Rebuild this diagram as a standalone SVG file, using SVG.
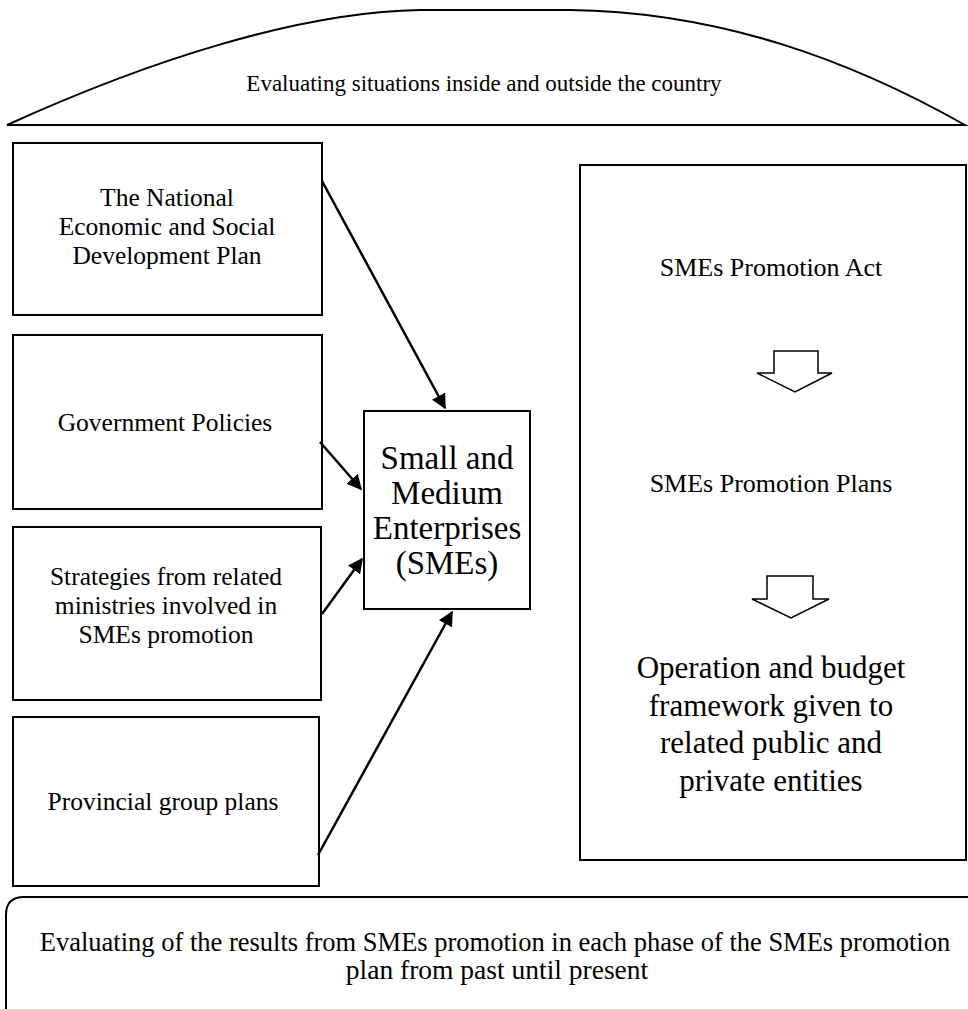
<svg xmlns="http://www.w3.org/2000/svg" width="968" height="1009" viewBox="0 0 968 1009">
<style>
.box{fill:#fff;stroke:#000;stroke-width:2}
.t{font-family:"Liberation Serif","Times New Roman",serif;fill:#000;text-anchor:middle}
.s{font-size:25.5px}
.top{font-size:23px}
.h{font-size:26px}
.m{font-size:31px}
.l{font-size:33px}
.b{font-size:27.5px}
.b1{font-size:26.5px}
.c{stroke:#000;stroke-width:2.5;fill:none;marker-end:url(#ah)}
.ha{fill:#fff;stroke:#000;stroke-width:1.5}
</style>
<defs>
<marker id="ah" viewBox="0 0 10 10" refX="9" refY="5" markerWidth="6" markerHeight="6" markerUnits="strokeWidth" orient="auto">
<path d="M0,0 L10,5 L0,10 Z" fill="#000"/>
</marker>
</defs>
<rect width="968" height="1009" fill="#fff"/>
<g id="top-arch">
<path d="M7,125 C150,60 300,12 420,10 L570,10 C720,12 850,60 965,125 Z" fill="#fff" stroke="#000" stroke-width="2"/>
<text class="t top" x="484" y="91">Evaluating situations inside and outside the country</text>
</g>
<g id="node-national-plan">
<rect class="box" x="13" y="143" width="309" height="172"/>
<text class="t s" x="167" y="206">The National</text>
<text class="t s" x="167" y="235">Economic and Social</text>
<text class="t s" x="167" y="264">Development Plan</text>
</g>
<g id="node-gov-policies">
<rect class="box" x="13" y="335" width="309" height="174"/>
<text class="t s" x="165" y="431">Government Policies</text>
</g>
<g id="node-strategies">
<rect class="box" x="13" y="527" width="308" height="173"/>
<text class="t s" x="166" y="585">Strategies from related</text>
<text class="t s" x="166" y="614">ministries involved in</text>
<text class="t s" x="166" y="643">SMEs promotion</text>
</g>
<g id="node-provincial">
<rect class="box" x="13" y="717" width="306" height="169"/>
<text class="t s" x="163" y="810">Provincial group plans</text>
</g>
<g id="node-smes">
<rect class="box" x="364" y="411" width="166" height="198"/>
<text class="t l" x="447" y="469">Small and</text>
<text class="t l" x="447" y="504">Medium</text>
<text class="t l" x="447" y="539">Enterprises</text>
<text class="t l" x="447" y="574">(SMEs)</text>
</g>
<g id="node-promotion">
<rect class="box" x="580" y="165" width="386" height="695"/>
<text class="t h" x="771" y="276">SMEs Promotion Act</text>
<path class="ha" d="M774,351 L818,351 L818,373 L832,373 L795,392 L757,373 L774,373 Z"/>
<text class="t h" x="771" y="492">SMEs Promotion Plans</text>
<path class="ha" d="M767,576 L813,576 L813,599 L829,599 L791,618 L752,599 L767,599 Z"/>
<text class="t m" x="771" y="678">Operation and budget</text>
<text class="t m" x="771" y="716">framework given to</text>
<text class="t m" x="771" y="753">related public and</text>
<text class="t m" x="771" y="791">private entities</text>
</g>
<g id="bottom-box">
<path d="M968,897 L24,897 Q6,897 6,915 L6,1009" fill="none" stroke="#000" stroke-width="2"/>
<text class="t b1" x="495" y="951">Evaluating of the results from SMEs promotion in each phase of the SMEs promotion</text>
<text class="t b" x="497" y="979">plan from past until present</text>
</g>
<g id="connectors">
<line class="c" x1="322" y1="181" x2="445" y2="408"/>
<line class="c" x1="320" y1="442" x2="361" y2="489"/>
<line class="c" x1="322" y1="614" x2="362" y2="559"/>
<line class="c" x1="318" y1="855" x2="452" y2="612"/>
</g>
</svg>
